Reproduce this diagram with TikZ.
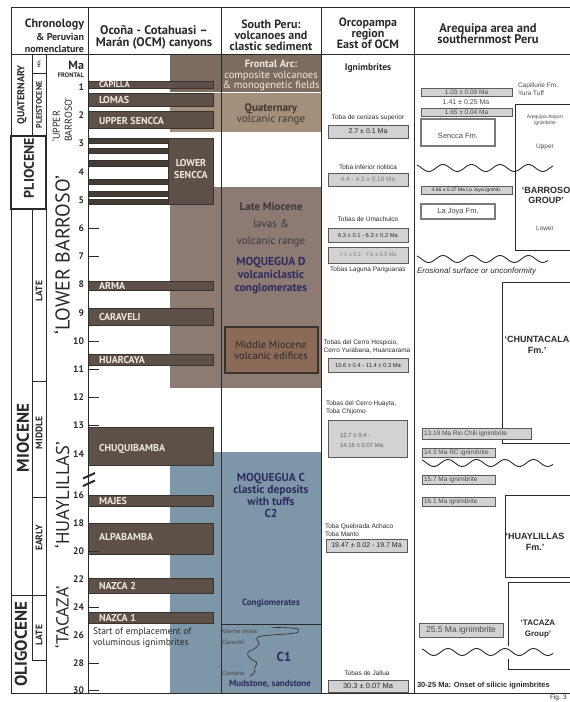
\documentclass[tikz,border=0pt]{standalone}
\usepackage{fontspec}
\setmainfont{PT Sans}
\newfontfamily\arial{Liberation Sans}
\newcommand\fsz[2]{\fontsize{#1}{#2}\selectfont}
\definecolor{barc}{HTML}{5D5048}
\definecolor{bard}{HTML}{3B322C}
\definecolor{thinc}{HTML}{443C36}
\definecolor{bartxt}{HTML}{F0E8E0}
\definecolor{frontc}{HTML}{7C6B5F}
\definecolor{quatc}{HTML}{A48F7D}
\definecolor{mioc}{HTML}{8D7B73}
\definecolor{midc}{HTML}{8B6A57}
\definecolor{bluec}{HTML}{7E97A8}
\definecolor{navy}{HTML}{2D2B5F}
\definecolor{gfill}{HTML}{D2D2D2}
\definecolor{gline}{HTML}{5A5A5A}
\definecolor{ink}{HTML}{2A2A2A}
\definecolor{lightink}{HTML}{F2EAE2}
\definecolor{greyink}{HTML}{3C3838}
\begin{document}
\begin{tikzpicture}[x=1pt,y=-1pt,
  every node/.style={inner sep=0pt,outer sep=0pt,text=ink},
  frame/.style={draw=ink,line width=1pt},
  ocmbar/.style={fill=barc,draw=bard,line width=0.7pt},
  thinbar/.style={fill=thinc,draw=bard,line width=0.5pt},
  barlbl/.style={anchor=west,text=bartxt,font=\bfseries\fsz{10}{12}},
  hdr/.style={font=\bfseries\fsz{12}{11.2},align=center},
  epoch/.style={rotate=90,font=\bfseries\fsz{#1}{#1}},
  nomen/.style={rotate=90,font=\fsz{#1}{#1}},
  numlbl/.style={anchor=east,font=\bfseries\fsz{9.5}{10}},
  tick/.style={draw=ink,line width=0.9pt},
  obox/.style={fill=gfill,draw=gline,line width=1pt},
  otxt/.style={font=\arial\fsz{6.5}{8}},
  atxt/.style={font=\arial\fsz{6.5}{8},text=ink!85},
  wbox/.style={fill=white,draw=gline!80,line width=1.2pt},
  fmbox/.style={fill=white,draw=ink,line width=1pt},
  fmtxt/.style={font=\arial\bfseries\fsz{9}{10.5},align=center},
  wave/.style={draw=ink,line width=0.9pt},
  sp/.style={align=center,text=#1},
]
\useasboundingbox (0,0) rectangle (570,702);

% ---------- background shading ----------
\fill[frontc] (170,54) rectangle (321,91.5);
\fill[quatc] (170,93) rectangle (321,132);
\fill[mioc] (170,187) rectangle (321,388);
\fill[bluec] (170,452) rectangle (321,693);
\draw[fill=midc,draw=bard,line width=1.2pt] (225,327) rectangle (318,373);
\draw[ink,line width=0.8pt] (221,624) -- (321,624);

% ---------- OCM bars ----------
\foreach \a/\b in {81/88,93/106,111/128,281/290,308/325,354/365,427/465,495/506,523/554,578/593,612/623}
  \draw[ocmbar] (88,\a) rectangle (213,\b);
\foreach \a/\b in {138/143,148/153,160/166,179/184,191/196,199/204}
  \draw[thinbar] (88,\a) rectangle (168,\b);
\draw[ocmbar] (168,138) rectangle (213,204);

\node[barlbl,font=\bfseries\fsz{8.5}{10}] (capilla) at (99,84.5) {CAPILLA};
\node[barlbl] (lomas) at (99,99.5) {LOMAS};
\node[barlbl] (usencca) at (99,121) {UPPER SENCCA};
\node[barlbl,anchor=center,align=center,font=\bfseries\fsz{10}{12.5}] (lsencca) at (191,169) {LOWER\\SENCCA};
\node[barlbl] (arma) at (99,285.5) {ARMA};
\node[barlbl] (caraveli) at (99,317) {CARAVELI};
\node[barlbl] (huarcaya) at (99,359.5) {HUARCAYA};
\node[barlbl] (chuqui) at (99,449) {CHUQUIBAMBA};
\node[barlbl] (majes) at (99,500.5) {MAJES};
\node[barlbl] (alpa) at (99,537) {ALPABAMBA};
\node[barlbl] (nazca2) at (99,586) {NAZCA 2};
\node[barlbl] (nazca1) at (99,617.5) {NAZCA 1};
\node[anchor=west,font=\fsz{9.5}{11}] (start1) at (93,632) {Start of emplacement of};
\node[anchor=west,font=\fsz{9.5}{11}] (start2) at (93,643) {voluminous ignimbrites};

% ---------- frame ----------
\draw[frame] (11,7) -- (575,7);
\draw[frame] (11,54) -- (575,54);
\draw[frame] (11,693) -- (575,693);
\draw[frame] (11,7) -- (11,693);
\foreach \x in {88,221,321,414} \draw[frame] (\x,7) -- (\x,693);
\draw[frame] (46,54) -- (46,693);
\draw[frame] (32,54) -- (32,136);
\draw[frame] (32,209) -- (32,660);
\draw[frame] (32,73) -- (46,73);
\draw[frame] (32,381) -- (46,381);
\draw[frame] (32,497) -- (46,497);
\draw[frame] (11,595) -- (46,595);
\draw[frame] (32,660) -- (46,660);
\draw[draw=ink,line width=1.6pt] (11,136) rectangle (46,209);

% ---------- headers ----------
\node[anchor=east,font=\bfseries\fsz{12}{13}] (hchron) at (84,24) {Chronology};
\node[anchor=east,font=\bfseries\fsz{10}{11}] (hper) at (84,37) {\& Peruvian};
\node[anchor=east,font=\bfseries\fsz{10}{11}] (hnom) at (84,49) {nomenclature};
\node[hdr,font=\bfseries\fsz{12.5}{12.5}] (hocm) at (154,37.5) {Ocoña - Cotahuasi –\\Marán (OCM) canyons};
\node[hdr] (hsp) at (271,35.5) {South Peru:\\volcanoes and\\clastic sediment};
\node[hdr] (horc) at (368,33.5) {Orcopampa\\region\\East of OCM};
\node[hdr,font=\bfseries\fsz{12.5}{11.5}] (hare) at (488,33.5) {Arequipa area and\\southernmost Peru};

% ---------- chronology ----------
\node[epoch=10] (quat) at (22,95) {QUATERNARY};
\node[epoch=4] (hol) at (39,63.5) {HOL.};
\node[epoch=8] (pleist) at (39,105) {PLEISTOCENE};
\node[epoch=14] (plio) at (29,168) {PLIOCENE};
\node[epoch=17] (mio) at (23,438) {MIOCENE};
\node[epoch=9.5] (late1) at (39,291) {LATE};
\node[epoch=9.5] (middle) at (39,433) {MIDDLE};
\node[epoch=9.5] (early) at (39,538) {EARLY};
\node[epoch=17] (olig) at (21,644) {OLIGOCENE};
\node[epoch=9.5] (late2) at (39,635) {LATE};

\node[nomen=10,align=left,font=\fsz{10}{12}] (ubarroso) at (62,120) {‘UPPER\\BARROSO’};
\node[nomen=20] (lbarroso) at (62,255) {‘LOWER BARROSO’};
\node[nomen=18.5] (huay) at (62,495) {‘HUAYLILLAS’};
\node[nomen=17.5] (tacaza) at (62,617) {‘TACAZA’};

\node[anchor=east,font=\bfseries\fsz{12}{12}] (ma) at (84,65) {Ma};
\node[anchor=east,font=\bfseries\fsz{6.5}{7}] (frontal) at (84,75.5) {FRONTAL};
\foreach \n/\y in {1/87.2,2/115.4,3/143.6,4/171.8,5/200,6/228.2,7/256.4,8/284.6,9/312.8,10/341,11/369.2,12/397.4,13/425.6,14/453.8,16/495,18/523,20/551,22/579,24/607,26/635,28/663,30/690}
  \node[numlbl] (m\n) at (84,\y) {\n};
\foreach \y in {228.2,256.4,341,369.2,397.4,425.6,551,607,663,690.5}
  \draw[tick] (88,\y) -- (99,\y);
\draw[ink,line width=2pt] (83,478.5) -- (95,473);
\draw[ink,line width=2pt] (83,486) -- (95,480.5);

% ---------- South Peru ----------
\node[sp=lightink,font=\fsz{10.5}{10.5}] (frontarc) at (271,75.5) {\textbf{Frontal Arc:}\\composite volcanoes\\\& monogenetic fields};
\node[sp=ink!85!brown,font=\fsz{11}{11}] (quatvr) at (271,114.5) {\textbf{Quaternary}\\volcanic range};
\node[sp=greyink,font=\fsz{11}{17}] (latemio) at (271,225) {\textbf{Late Miocene}\\lavas \&\\volcanic range};
\node[sp=navy,font=\bfseries\fsz{11.5}{13}] (moqd) at (271,276) {MOQUEGUA D\\volcaniclastic\\conglomerates};
\node[sp=ink,font=\fsz{10.5}{11}] (midmio) at (271,350.5) {Middle Miocene\\volcanic edifices};
\node[sp=navy,font=\bfseries\fsz{11.5}{12}] (moqc) at (271,495) {MOQUEGUA C\\clastic deposits\\with tuffs\\C2};
\node[sp=navy,font=\bfseries\fsz{9}{10}] (congl) at (271,603) {Conglomerates};
\node[anchor=west,font=\arial\fsz{6}{7},text=ink!85] (marine) at (222,631) {Marine strata};
\node[anchor=west,font=\arial\fsz{6}{7},text=ink!85] (carav) at (222,642) {Caraveli};
\node[anchor=west,font=\arial\fsz{6}{7},text=ink!85] (camana) at (222,673) {Camana};
\node[sp=navy,font=\bfseries\fsz{13}{13}] (c1) at (284,657) {C1};
\node[sp=navy,font=\bfseries\fsz{9}{10}] (mud) at (270,684) {Mudstone, sandstone};
\draw[ink,line width=0.6pt] plot[smooth,tension=0.6] coordinates {(271.7,627.3) (295,628.3) (298.3,630.7) (293.3,633.3) (261.7,636) (256.7,639.3) (259.3,643.3) (255,648.3) (247.7,652.7) (250,658.3) (256.7,662.7) (255,667) (254.3,672.7) (250,676)};

% ---------- Orcopampa ----------
\node[font=\bfseries\fsz{9.5}{10}] (ign) at (368,68) {Ignimbrites};
\node[otxt] (o1t) at (368,118) {Toba de cenizas superior};
\node[obox,minimum width=80pt,minimum height=13pt,anchor=north west,otxt,font=\arial\fsz{7}{8}] (o1) at (328,125) {2.7 ± 0.1 Ma};
\node[otxt] (o2t) at (368,167) {Toba inferior riolitica};
\node[obox,minimum width=80pt,minimum height=13pt,anchor=north west,font=\arial\fsz{6.5}{8},text=ink!60] (o2) at (328,173) {4.4 - 4.3 ± 0.16 Ma};
\node[otxt] (o3t) at (368,219) {Tobas de Umachulco};
\node[obox,minimum width=80pt,minimum height=14pt,anchor=north west,font=\arial\fsz{5.8}{7}] (o3) at (328,228) {6.3 ± 0.1 - 6.3 ± 0.2 Ma};
\node[obox,minimum width=80pt,minimum height=16pt,anchor=north west,font=\arial\fsz{5.5}{7},text=ink!60] (o4) at (328,247) {7.1 ± 0.2 - 7.6 ± 0.3 Ma};
\node[otxt] (o4t) at (368,269.5) {Tobas Laguna Pariguanas};
\node[otxt,align=left] (o5t) at (367,347) {Tobas del Cerro Hospicio,\\Cerro Yurabana, Huancarama};
\node[obox,minimum width=80pt,minimum height=14pt,anchor=north west,font=\arial\fsz{5.8}{7}] (o5) at (328,358) {10.6 ± 0.4 - 11.4 ± 0.3 Ma};
\node[otxt,align=left,anchor=west] (o6t) at (326,407.5) {Tobas del Cerro Huayta,\\Toba Chijomo};
\node[obox,minimum width=79pt,minimum height=37pt,anchor=north west] (o6) at (328,420) {};
\node[anchor=west,font=\arial\fsz{6}{10},align=left,text=ink!75] (o6b) at (340,440) {12.7 ± 0.4 -\\14.16 ± 0.07 Ma};
\node[otxt,align=left,anchor=west] (o7t) at (325,530) {Toba Quebrada Achaco\\Toba Manto};
\node[obox,minimum width=81pt,minimum height=13pt,anchor=north west,font=\arial\fsz{7}{8}] (o7) at (326,539) {19.47 ± 0.02 - 19.7 Ma};
\node[otxt] (o8t) at (367,673) {Tobas de Jallua};
\node[obox,minimum width=80pt,minimum height=12pt,anchor=north west,font=\arial\fsz{7.5}{8}] (o8) at (328,680) {30.3 ± 0.07 Ma};

% ---------- Arequipa ----------
\node[fmbox,minimum width=62pt,minimum height=146pt,anchor=north west] (barroso) at (515,104) {};
\node[fmbox,minimum width=72pt,minimum height=161pt,anchor=north west] (chunta) at (502,282) {};
\node[fmbox,minimum width=70pt,minimum height=82pt,anchor=north west] (huayfm) at (505,495) {};
\draw[ink,line width=1pt] (575,582) -- (508,582) -- (508,646);
\draw[ink,line width=1pt] (508,659) -- (508,669) -- (575,669);
\coordinate (tacz) at (508,582);

\node[obox,minimum width=91pt,minimum height=8pt,anchor=north west,atxt] (a1) at (421,88) {1.03 ± 0.09 Ma};
\node[atxt,anchor=west,align=left] (capil) at (518,89) {Capillune Fm.\\Yura Tuff};
\node[atxt,font=\arial\fsz{7}{8}] (a141) at (466,102) {1.41 ± 0.25 Ma};
\node[obox,minimum width=91pt,minimum height=8pt,anchor=north west,atxt] (a2) at (421,108) {1.65 ± 0.04 Ma};
\node[wbox,minimum width=74pt,minimum height=27pt,anchor=north west] (sencca) at (421,119) {};
\node[atxt,font=\arial\fsz{7.5}{8}] (senccat) at (458,136) {Sencca Fm.};
\node[atxt,font=\arial\fsz{5}{6},align=center] (airp) at (545,120.5) {Arequipa Airport\\ignimbrite};
\node[atxt,font=\arial\fsz{6.5}{7}] (upper) at (545,147) {Upper};
\node[fmtxt] (barrosot) at (546,195.5) {‘BARROSO\\GROUP’};
\node[atxt,font=\arial\fsz{6.5}{7}] (lower) at (545,228) {Lower};
\draw[wave] plot[domain=417:553,samples=90,smooth] (\x,{168-3.5*cos(12.63*(\x-443))});
\node[obox,minimum width=91pt,minimum height=8pt,anchor=north west,font=\arial\fsz{5}{6}] (a3) at (421,186) {4.66 ± 0.37 Ma La Joya ignimb.};
\node[wbox,minimum width=74pt,minimum height=15pt,anchor=north west,atxt,font=\arial\fsz{7.5}{8}] (lajoya) at (421,204) {La Joya Fm.};
\draw[wave] plot[domain=417:548,samples=90,smooth] (\x,{259-3.5*cos(12.63*(\x-443))});
\node[anchor=west,font=\arial\itshape\fsz{8}{9}] (eros) at (417,271) {Erosional surface or unconformity};
\node[fmtxt] (chuntat) at (537,345) {‘CHUNTACALA\\Fm.’};
\node[obox,minimum width=109pt,minimum height=11pt,anchor=north west] (a4) at (422,428) {};
\node[atxt,anchor=west] (a4t) at (424,433.5) {13.19 Ma Rio Chili ignimbrite};
\node[obox,minimum width=73pt,minimum height=9pt,anchor=north west] (a5) at (422,448) {};
\node[atxt,anchor=west] (a5t) at (424,452.5) {14.3 Ma RC ignimbrite};
\draw[wave] plot[domain=422:553,samples=90,smooth] (\x,{463-3.5*cos(12.63*(\x-448))});
\node[obox,minimum width=73pt,minimum height=9pt,anchor=north west] (a6) at (422,475) {};
\node[atxt,anchor=west] (a6t) at (424,479.5) {15.7 Ma ignimbrite};
\node[obox,minimum width=73pt,minimum height=9pt,anchor=north west] (a7) at (422,497) {};
\node[atxt,anchor=west] (a7t) at (424,501.5) {16.1 Ma ignimbrite};
\node[fmtxt] (huayt) at (535,542) {‘HUAYLILLAS\\Fm.’};
\node[fmtxt,font=\arial\bfseries\fsz{8}{11}] (tacazat) at (538,629.5) {‘TACAZA\\Group’};
\node[obox,minimum width=84pt,minimum height=14pt,anchor=north west,font=\arial\fsz{8.5}{9},text=ink!85] (a8) at (419,623) {25.5 Ma ignimbrite};
\draw[wave] plot[domain=422:553,samples=90,smooth] (\x,{652-3.5*cos(12.63*(\x-448))});
\node[anchor=west,font=\arial\bfseries\fsz{7.5}{8}] (onset) at (417,686) {30-25 Ma: Onset of silicic ignimbrites};
\node[anchor=west,font=\arial\fsz{6.5}{7}] (fig) at (550,698) {Fig. 3};
\end{tikzpicture}
\end{document}
